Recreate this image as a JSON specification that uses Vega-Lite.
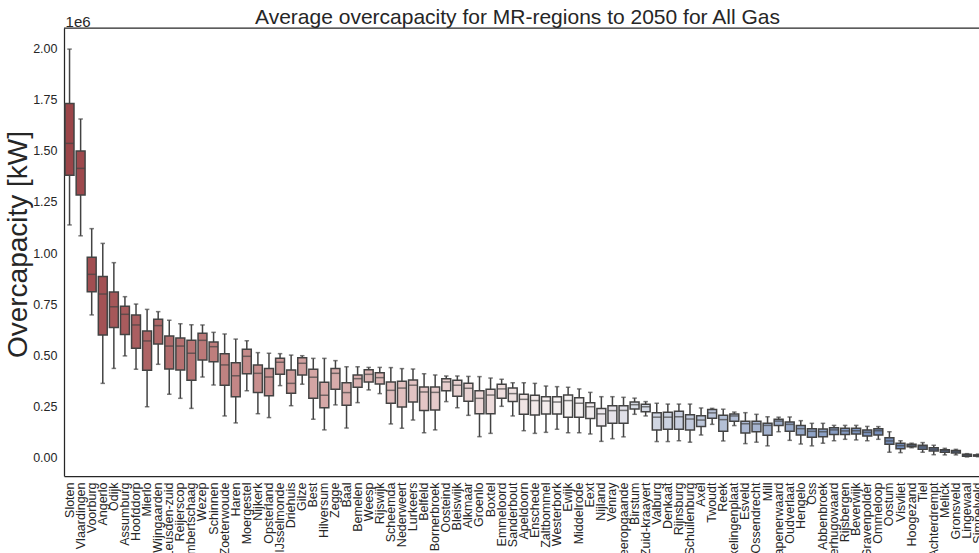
{
  "$schema": "https://vega.github.io/schema/vega-lite/v6.json",
  "autosize": {"type": "none"},
  "padding": {"left": 64, "top": 28, "right": 0, "bottom": 77},
  "width": 915,
  "height": 448,
  "title": {"text": "Average overcapacity for MR-regions to 2050 for All Gas", "fontSize": 21, "font": "Liberation Sans", "fontWeight": "normal", "color": "#262626", "offset": -13, "dx": -4},
  "config": {"view": {"stroke": null}, "font": "Liberation Sans"},
  "data": {"values": [
    {"region": "Sloten", "rank": 1, "lower": 1137000, "q1": 1380000, "median": 1535000, "q3": 1730000, "upper": 1995000},
    {"region": "Vlaardingen", "rank": 2, "lower": 1084000, "q1": 1283000, "median": 1413000, "q3": 1498000, "upper": 1654000},
    {"region": "Voorburg", "rank": 3, "lower": 698000, "q1": 811000, "median": 896000, "q3": 979000, "upper": 1119000},
    {"region": "Angerlo", "rank": 4, "lower": 364000, "q1": 600000, "median": 800000, "q3": 885000, "upper": 1047000},
    {"region": "Odijk", "rank": 5, "lower": 437000, "q1": 636000, "median": 738000, "q3": 810000, "upper": 953000},
    {"region": "Assumburg", "rank": 6, "lower": 498000, "q1": 603000, "median": 701000, "q3": 740000, "upper": 787000},
    {"region": "Hoofddorp", "rank": 7, "lower": 433000, "q1": 535000, "median": 649000, "q3": 698000, "upper": 751000},
    {"region": "Mierlo", "rank": 8, "lower": 250000, "q1": 428000, "median": 571000, "q3": 620000, "upper": 725000},
    {"region": "Wijngaarden", "rank": 9, "lower": 457000, "q1": 556000, "median": 646000, "q3": 677000, "upper": 714000},
    {"region": "Leusden-zuid", "rank": 10, "lower": 311000, "q1": 434000, "median": 546000, "q3": 595000, "upper": 672000},
    {"region": "Reijerscop", "rank": 11, "lower": 291000, "q1": 429000, "median": 546000, "q3": 585000, "upper": 655000},
    {"region": "Lambertschaag", "rank": 12, "lower": 242000, "q1": 379000, "median": 511000, "q3": 574000, "upper": 650000},
    {"region": "Wezep", "rank": 13, "lower": 395000, "q1": 478000, "median": 574000, "q3": 608000, "upper": 649000},
    {"region": "Schinnen", "rank": 14, "lower": 356000, "q1": 470000, "median": 543000, "q3": 566000, "upper": 613000},
    {"region": "Zoeterwoude", "rank": 15, "lower": 205000, "q1": 355000, "median": 454000, "q3": 509000, "upper": 605000},
    {"region": "Haren", "rank": 16, "lower": 171000, "q1": 299000, "median": 401000, "q3": 465000, "upper": 580000},
    {"region": "Moergestel", "rank": 17, "lower": 328000, "q1": 411000, "median": 496000, "q3": 530000, "upper": 572000},
    {"region": "Nijkerk", "rank": 18, "lower": 216000, "q1": 319000, "median": 413000, "q3": 454000, "upper": 514000},
    {"region": "Opsterland", "rank": 19, "lower": 197000, "q1": 304000, "median": 395000, "q3": 436000, "upper": 511000},
    {"region": "IJsselmonde", "rank": 20, "lower": 353000, "q1": 408000, "median": 467000, "q3": 486000, "upper": 509000},
    {"region": "Driehuis", "rank": 21, "lower": 255000, "q1": 316000, "median": 364000, "q3": 429000, "upper": 502000},
    {"region": "Gilze", "rank": 22, "lower": 360000, "q1": 405000, "median": 462000, "q3": 489000, "upper": 499000},
    {"region": "Best", "rank": 23, "lower": 189000, "q1": 291000, "median": 394000, "q3": 433000, "upper": 486000},
    {"region": "Hilversum", "rank": 24, "lower": 137000, "q1": 245000, "median": 306000, "q3": 369000, "upper": 486000},
    {"region": "Zegge", "rank": 25, "lower": 259000, "q1": 335000, "median": 413000, "q3": 436000, "upper": 475000},
    {"region": "Baal", "rank": 26, "lower": 146000, "q1": 257000, "median": 319000, "q3": 367000, "upper": 445000},
    {"region": "Bemelen", "rank": 27, "lower": 270000, "q1": 345000, "median": 387000, "q3": 405000, "upper": 445000},
    {"region": "Weesp", "rank": 28, "lower": 332000, "q1": 371000, "median": 408000, "q3": 431000, "upper": 442000},
    {"region": "Rijswijk", "rank": 29, "lower": 314000, "q1": 361000, "median": 392000, "q3": 416000, "upper": 442000},
    {"region": "Scheemda", "rank": 30, "lower": 166000, "q1": 267000, "median": 330000, "q3": 371000, "upper": 441000},
    {"region": "Nederweert", "rank": 31, "lower": 145000, "q1": 249000, "median": 341000, "q3": 374000, "upper": 436000},
    {"region": "Lurkeers", "rank": 32, "lower": 185000, "q1": 273000, "median": 355000, "q3": 380000, "upper": 434000},
    {"region": "Belfeld", "rank": 33, "lower": 123000, "q1": 231000, "median": 322000, "q3": 346000, "upper": 411000},
    {"region": "Bornerbroek", "rank": 34, "lower": 137000, "q1": 234000, "median": 320000, "q3": 346000, "upper": 405000},
    {"region": "Oosteind", "rank": 35, "lower": 275000, "q1": 328000, "median": 371000, "q3": 387000, "upper": 400000},
    {"region": "Bleiswijk", "rank": 36, "lower": 245000, "q1": 301000, "median": 355000, "q3": 379000, "upper": 400000},
    {"region": "Alkmaar", "rank": 37, "lower": 208000, "q1": 277000, "median": 340000, "q3": 364000, "upper": 398000},
    {"region": "Groenlo", "rank": 38, "lower": 104000, "q1": 216000, "median": 291000, "q3": 328000, "upper": 397000},
    {"region": "Boxtel", "rank": 39, "lower": 120000, "q1": 216000, "median": 307000, "q3": 335000, "upper": 390000},
    {"region": "Emmeloord", "rank": 40, "lower": 252000, "q1": 291000, "median": 337000, "q3": 360000, "upper": 384000},
    {"region": "Sanderbout", "rank": 41, "lower": 205000, "q1": 275000, "median": 314000, "q3": 341000, "upper": 367000},
    {"region": "Apeldoorn", "rank": 42, "lower": 133000, "q1": 213000, "median": 286000, "q3": 311000, "upper": 367000},
    {"region": "Enschede", "rank": 43, "lower": 120000, "q1": 210000, "median": 280000, "q3": 306000, "upper": 364000},
    {"region": "Zaltbommel", "rank": 44, "lower": 125000, "q1": 215000, "median": 278000, "q3": 299000, "upper": 351000},
    {"region": "Westerbork", "rank": 45, "lower": 140000, "q1": 215000, "median": 273000, "q3": 299000, "upper": 348000},
    {"region": "Ewijk", "rank": 46, "lower": 123000, "q1": 199000, "median": 280000, "q3": 307000, "upper": 345000},
    {"region": "Middelrode", "rank": 47, "lower": 123000, "q1": 199000, "median": 267000, "q3": 294000, "upper": 337000},
    {"region": "Eext", "rank": 48, "lower": 117000, "q1": 192000, "median": 250000, "q3": 270000, "upper": 320000},
    {"region": "Nijland", "rank": 49, "lower": 81000, "q1": 156000, "median": 215000, "q3": 241000, "upper": 299000},
    {"region": "Venray", "rank": 50, "lower": 94000, "q1": 169000, "median": 231000, "q3": 255000, "upper": 299000},
    {"region": "Heeropgaande", "rank": 51, "lower": 103000, "q1": 170000, "median": 232000, "q3": 255000, "upper": 296000},
    {"region": "Birstum", "rank": 52, "lower": 213000, "q1": 239000, "median": 260000, "q3": 273000, "upper": 292000},
    {"region": "Zuid-kraayert", "rank": 53, "lower": 205000, "q1": 226000, "median": 250000, "q3": 262000, "upper": 275000},
    {"region": "Valburg", "rank": 54, "lower": 80000, "q1": 137000, "median": 199000, "q3": 221000, "upper": 267000},
    {"region": "Denkaat", "rank": 55, "lower": 80000, "q1": 140000, "median": 199000, "q3": 223000, "upper": 263000},
    {"region": "Rijnsburg", "rank": 56, "lower": 84000, "q1": 140000, "median": 201000, "q3": 228000, "upper": 263000},
    {"region": "Schuilenburg", "rank": 57, "lower": 77000, "q1": 137000, "median": 190000, "q3": 211000, "upper": 263000},
    {"region": "Axel", "rank": 58, "lower": 112000, "q1": 154000, "median": 185000, "q3": 206000, "upper": 244000},
    {"region": "Twoudt", "rank": 59, "lower": 164000, "q1": 194000, "median": 220000, "q3": 236000, "upper": 242000},
    {"region": "Reek", "rank": 60, "lower": 83000, "q1": 130000, "median": 187000, "q3": 208000, "upper": 238000},
    {"region": "Hoekelingenplaat", "rank": 61, "lower": 158000, "q1": 179000, "median": 205000, "q3": 215000, "upper": 224000},
    {"region": "Esveld", "rank": 62, "lower": 70000, "q1": 122000, "median": 167000, "q3": 179000, "upper": 221000},
    {"region": "Ossendrecht", "rank": 63, "lower": 77000, "q1": 128000, "median": 166000, "q3": 179000, "upper": 213000},
    {"region": "Mill", "rank": 64, "lower": 59000, "q1": 111000, "median": 159000, "q3": 169000, "upper": 201000},
    {"region": "Kapenerwaard", "rank": 65, "lower": 128000, "q1": 158000, "median": 180000, "q3": 189000, "upper": 199000},
    {"region": "Oudverlaat", "rank": 66, "lower": 86000, "q1": 130000, "median": 164000, "q3": 176000, "upper": 200000},
    {"region": "Hengelo", "rank": 67, "lower": 68000, "q1": 112000, "median": 143000, "q3": 158000, "upper": 182000},
    {"region": "Oss", "rank": 68, "lower": 59000, "q1": 101000, "median": 130000, "q3": 143000, "upper": 169000},
    {"region": "Abbenbroek", "rank": 69, "lower": 72000, "q1": 104000, "median": 128000, "q3": 141000, "upper": 169000},
    {"region": "Heerhugowaard", "rank": 70, "lower": 84000, "q1": 114000, "median": 137000, "q3": 148000, "upper": 159000},
    {"region": "Rijsbergen", "rank": 71, "lower": 91000, "q1": 114000, "median": 132000, "q3": 145000, "upper": 159000},
    {"region": "Beverwijk", "rank": 72, "lower": 88000, "q1": 117000, "median": 133000, "q3": 145000, "upper": 159000},
    {"region": "'s-Gravenpolder", "rank": 73, "lower": 84000, "q1": 107000, "median": 125000, "q3": 137000, "upper": 154000},
    {"region": "Ommeloop", "rank": 74, "lower": 91000, "q1": 112000, "median": 133000, "q3": 143000, "upper": 153000},
    {"region": "Oostum", "rank": 75, "lower": 28000, "q1": 67000, "median": 83000, "q3": 99000, "upper": 128000},
    {"region": "Visvliet", "rank": 76, "lower": 26000, "q1": 45000, "median": 60000, "q3": 72000, "upper": 84000},
    {"region": "Hoogezand", "rank": 77, "lower": 50000, "q1": 55000, "median": 62000, "q3": 67000, "upper": 72000},
    {"region": "Tiel", "rank": 78, "lower": 28000, "q1": 42000, "median": 54000, "q3": 62000, "upper": 75000},
    {"region": "Achterdrempt", "rank": 79, "lower": 16000, "q1": 34000, "median": 42000, "q3": 50000, "upper": 62000},
    {"region": "Melick", "rank": 80, "lower": 15000, "q1": 28000, "median": 36000, "q3": 40000, "upper": 47000},
    {"region": "Gronsveld", "rank": 81, "lower": 15000, "q1": 24000, "median": 31000, "q3": 36000, "upper": 42000},
    {"region": "Lingewaal", "rank": 82, "lower": 5000, "q1": 8000, "median": 13000, "q3": 18000, "upper": 21000},
    {"region": "Simpelveld", "rank": 83, "lower": 6000, "q1": 9000, "median": 12000, "q3": 15000, "upper": 19000}
  ]},
  "layer": [
    {
      "mark": {"type": "rule", "color": "#434343", "strokeWidth": 1.5},
      "encoding": {
        "x": {"field": "region", "type": "nominal", "sort": null,
          "scale": {"range": [0, 919.6], "paddingInner": 0, "paddingOuter": 0},
          "axis": {"title": null, "labelAngle": -90, "labelFontSize": 12.5, "labelColor": "#262626", "labelFont": "Liberation Sans", "ticks": false, "labelPadding": 6, "domainColor": "#262626", "domainWidth": 1.25, "labelOverlap": false, "labelLimit": 300}},
        "y": {"field": "lower", "type": "quantitative",
          "scale": {"domain": [-88000, 2098000], "nice": false, "zero": false},
          "axis": {"title": "Overcapacity [kW]", "titleFontSize": 28, "titleFontWeight": "normal", "titleColor": "#262626", "titleFont": "Liberation Sans", "titlePadding": 0, "titleY": 216,
            "values": [0, 250000, 500000, 750000, 1000000, 1250000, 1500000, 1750000, 2000000],
            "labelExpr": "format(datum.value / 1000000, '.2f')", "labelFontSize": 12.5, "labelColor": "#262626", "labelFont": "Liberation Sans",
            "ticks": false, "labelPadding": 7, "grid": false, "domainColor": "#262626", "domainWidth": 1.25}},
        "y2": {"field": "upper"}
      }
    },
    {
      "mark": {"type": "tick", "color": "#434343", "thickness": 1.5, "size": 4.5},
      "encoding": {
        "x": {"field": "region", "type": "nominal", "sort": null},
        "y": {"field": "lower", "type": "quantitative"}
      }
    },
    {
      "mark": {"type": "tick", "color": "#434343", "thickness": 1.5, "size": 4.5},
      "encoding": {
        "x": {"field": "region", "type": "nominal", "sort": null},
        "y": {"field": "upper", "type": "quantitative"}
      }
    },
    {
      "mark": {"type": "bar", "size": 8.9, "stroke": "#434343", "strokeWidth": 1.5},
      "encoding": {
        "x": {"field": "region", "type": "nominal", "sort": null},
        "y": {"field": "q1", "type": "quantitative"},
        "y2": {"field": "q3"},
        "color": {"field": "rank", "type": "quantitative", "legend": null,
          "scale": {"domain": [1, 23, 46, 52, 68, 83], "range": ["#9b4549", "#d4a5a4", "#f6f3f3", "#d9dde6", "#8fa3c6", "#5472aa"]}}
      }
    },
    {
      "mark": {"type": "tick", "color": "#434343", "thickness": 1.5, "size": 8.9},
      "encoding": {
        "x": {"field": "region", "type": "nominal", "sort": null},
        "y": {"field": "median", "type": "quantitative"}
      }
    },
    {
      "data": {"values": [{"offset": "1e6", "anchor": "Sloten"}]},
      "mark": {"type": "text", "fontSize": 15, "font": "Liberation Sans", "color": "#262626", "align": "left", "baseline": "alphabetic", "dx": -4, "dy": -1.5},
      "encoding": {
        "x": {"field": "anchor", "type": "nominal", "sort": null},
        "y": {"datum": 2098000, "type": "quantitative"},
        "text": {"field": "offset"}
      }
    },
    {
      "data": {"values": [{"edge": "top"}]},
      "mark": {"type": "rule", "color": "#262626", "strokeWidth": 1.25},
      "encoding": {
        "y": {"datum": 2098000, "type": "quantitative"}
      }
    }
  ]
}
